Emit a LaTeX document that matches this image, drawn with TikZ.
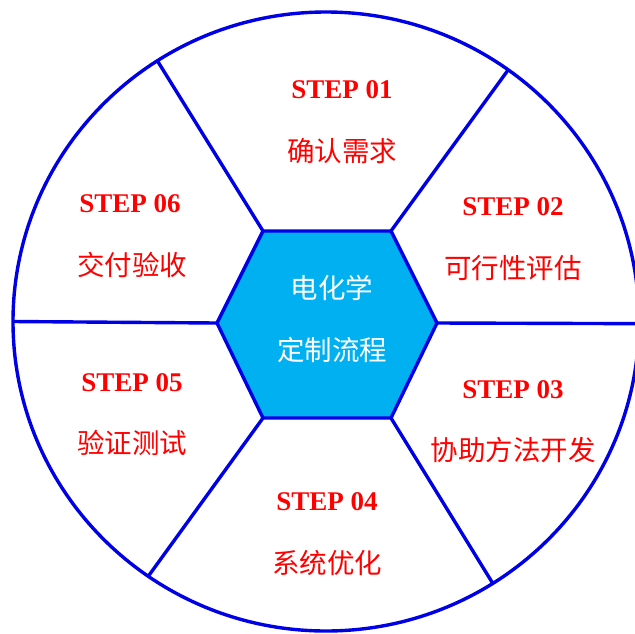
\documentclass[tikz,border=0pt]{standalone}
\usepackage{fontspec}
\setmainfont{Liberation Serif}
\newfontfamily\cjk{Noto Sans CJK SC}
\usetikzlibrary{calc}
\definecolor{ringblue}{RGB}{0,0,230}
\definecolor{hexfill}{RGB}{0,176,240}
\definecolor{stepred}{RGB}{255,0,0}
\begin{document}
\begin{tikzpicture}[x=1pt,y=-1pt,
  steptitle/.style={text=stepred, anchor=base, inner sep=0pt, font=\fontsize{27}{27}\selectfont\bfseries},
  steplabel/.style={text=stepred, anchor=base, inner sep=0pt, font=\fontsize{27.5}{28}\selectfont\cjk},
  centerlabel/.style={text=white, anchor=base, inner sep=0pt, font=\fontsize{27.5}{28}\selectfont\cjk},
  ringline/.style={draw=ringblue, line width=3.4pt},
  hexstyle/.style={draw=ringblue, fill=hexfill, line width=3.4pt, line join=miter}]
\useasboundingbox (0,0) rectangle (635,633);
\coordinate (c) at (326,321.5);
\coordinate (h1) at (263,231);
\coordinate (h2) at (391,231);
\coordinate (h3) at (437,323);
\coordinate (h4) at (391,418);
\coordinate (h5) at (263,418);
\coordinate (h6) at (217,323);
\coordinate (o1) at ($(c)+(122.6:313pt and 309.5pt)$);
\coordinate (o2) at ($(c)+(54.4:313pt and 309.5pt)$);
\coordinate (o3) at ($(c)+(-0.4:313pt and 309.5pt)$);
\coordinate (o4) at ($(c)+(302.2:313pt and 309.5pt)$);
\coordinate (o5) at ($(c)+(235.4:313pt and 309.5pt)$);
\coordinate (o6) at ($(c)+(180:313pt and 309.5pt)$);
\begin{scope}
\clip (0,0) rectangle (635,633);
\draw[ringline] (c) ellipse [x radius=313pt, y radius=309.5pt];
\draw[ringline] (h1) -- (o1);
\draw[ringline] (h2) -- (o2);
\draw[ringline] (h3) -- (o3);
\draw[ringline] (h4) -- (o4);
\draw[ringline] (h5) -- (o5);
\draw[ringline] (h6) -- (o6);
\end{scope}
\filldraw[hexstyle] (h1) -- (h2) -- (h3) -- (h4) -- (h5) -- (h6) -- cycle;
\node[centerlabel] (ct1) at (332,298) {电化学};
\node[centerlabel] (ct2) at (332,360) {定制流程};
\node[steptitle] (s1) at (342,98) {STEP 01};
\node[steplabel] (l1) at (342,161) {确认需求};
\node[steptitle] (s2) at (513,215) {STEP 02};
\node[steplabel] (l2) at (513,278) {可行性评估};
\node[steptitle] (s3) at (513,398) {STEP 03};
\node[steplabel] (l3) at (513,460) {协助方法开发};
\node[steptitle] (s4) at (327,510) {STEP 04};
\node[steplabel] (l4) at (327,573) {系统优化};
\node[steptitle] (s5) at (132,391) {STEP 05};
\node[steplabel] (l5) at (132,453) {验证测试};
\node[steptitle] (s6) at (130,212) {STEP 06};
\node[steplabel] (l6) at (132,275) {交付验收};
\end{tikzpicture}
\end{document}
